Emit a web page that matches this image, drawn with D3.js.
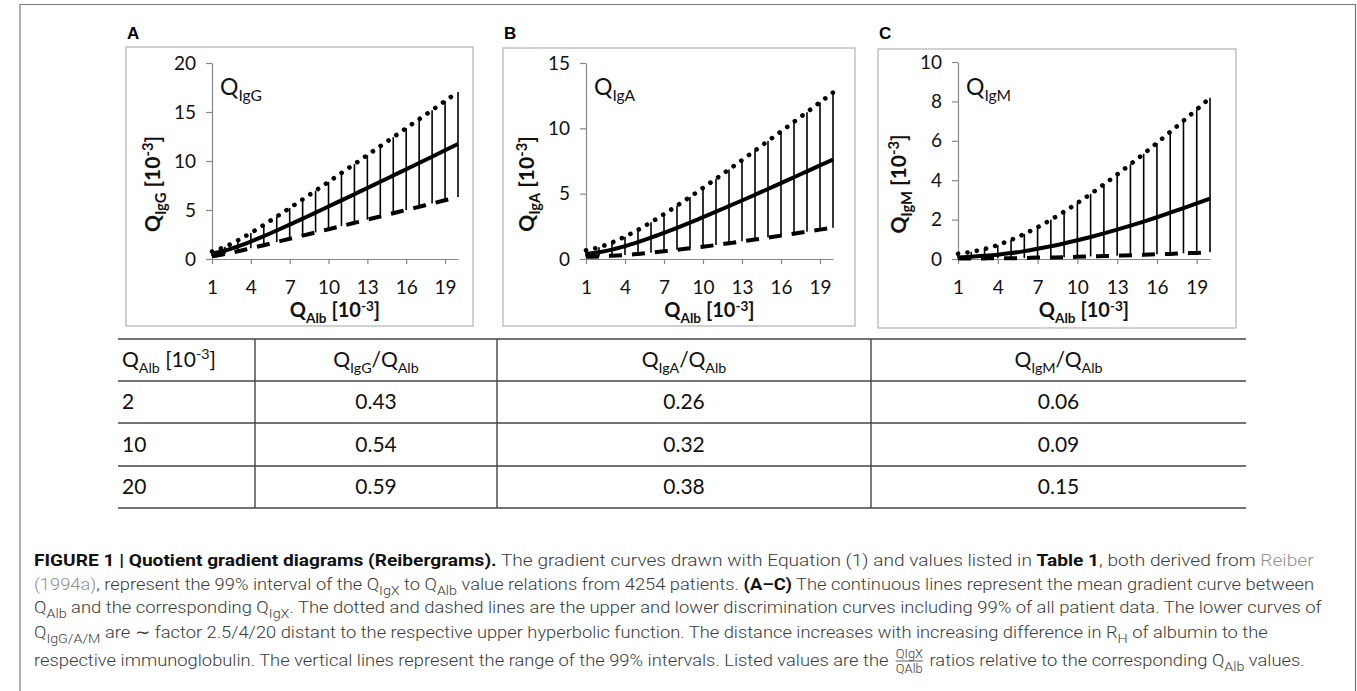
<!DOCTYPE html>
<html>
<head>
<meta charset="utf-8">
<script src="https://cdn.jsdelivr.net/npm/d3@7"></script>
<style>
  body { margin: 0; background: #fff; }
  text { white-space: pre; }
</style>
</head>
<body>
<div id="chart"></div>
<script>
// Q_Alb categories (x axis, 10^-3)
const qAlb = [1, 2, 3, 4, 5, 6, 7, 8, 9, 10, 11, 12, 13, 14, 15, 16, 17, 18, 19, 20];
const xTickLabels = [1, 4, 7, 10, 13, 16, 19];

// (IgG)
const igGUpper = [0.76, 1.24, 1.9, 2.66, 3.48, 4.33, 5.2, 6.08, 6.97, 7.87, 8.78, 9.69, 10.6, 11.52, 12.43, 13.35, 14.27, 15.19, 16.12, 17.04];
const igGMean = [0.55, 0.85, 1.28, 1.78, 2.33, 2.91, 3.51, 4.12, 4.73, 5.36, 5.98, 6.61, 7.25, 7.88, 8.52, 9.16, 9.8, 10.44, 11.09, 11.73];
const igGLower = [0.27, 0.51, 0.79, 1.1, 1.41, 1.73, 2.06, 2.38, 2.71, 3.03, 3.36, 3.69, 4.02, 4.34, 4.67, 5.0, 5.33, 5.66, 5.99, 6.32];

// panel B (IgA)
const igAUpper = [0.67, 0.9, 1.26, 1.71, 2.23, 2.81, 3.43, 4.08, 4.75, 5.44, 6.14, 6.85, 7.57, 8.3, 9.03, 9.76, 10.5, 11.24, 11.99, 12.74];
const igAMean = [0.39, 0.52, 0.72, 0.98, 1.29, 1.63, 2.0, 2.38, 2.78, 3.2, 3.62, 4.05, 4.48, 4.92, 5.36, 5.81, 6.26, 6.71, 7.16, 7.61];
const igALower = [0.17, 0.2, 0.25, 0.31, 0.39, 0.48, 0.59, 0.7, 0.82, 0.94, 1.07, 1.21, 1.35, 1.49, 1.64, 1.79, 1.94, 2.09, 2.25, 2.4];

// panel C (IgM)
const igMUpper = [0.27, 0.36, 0.51, 0.71, 0.97, 1.27, 1.61, 1.99, 2.4, 2.84, 3.3, 3.79, 4.29, 4.81, 5.34, 5.89, 6.45, 7.02, 7.59, 8.18];
const igMMean = [0.08, 0.11, 0.16, 0.22, 0.3, 0.4, 0.52, 0.65, 0.79, 0.95, 1.12, 1.3, 1.49, 1.69, 1.9, 2.12, 2.35, 2.58, 2.82, 3.07];
const igMLower = [0.02, 0.02, 0.03, 0.04, 0.04, 0.05, 0.07, 0.08, 0.09, 0.11, 0.13, 0.15, 0.17, 0.19, 0.21, 0.24, 0.26, 0.29, 0.31, 0.34];

// table values
const tableQAlb = ["2", "10", "20"];
const ratioIgG = ["0.43", "0.54", "0.59"];
const ratioIgA = ["0.26", "0.32", "0.38"];
const ratioIgM = ["0.06", "0.09", "0.15"];

const width = 1357,
  height = 691;

const svg = d3
  .select("#chart")
  .append("svg")
  .attr("width", width)
  .attr("height", height);

// writes text parts; flags: "_" sub, "^" sup, "*" bold, "~" link grey
function rich(sel, parts, size, subScale = 0.68, supShift = 0.36, boldFamily = null) {
  let cur = 0;
  parts.forEach(([s, f]) => {
    const sub = f.includes("_"),
      sup = f.includes("^");
    const shift = sub ? size * 0.28 : sup ? -size * supShift : 0;
    const t = sel.append("tspan").attr("dy", shift - cur).text(s);
    cur = shift;
    if (sub || sup) t.attr("font-size", size * subScale);
    if (f.includes("*")) {
      t.attr("font-weight", 700).attr("fill", "#111");
      if (boldFamily) t.attr("font-family", boldFamily);
    }
    if (f.includes("~")) t.attr("fill", "#8f8f8f");
  });
  return sel;
}

// outer figure frame
svg
  .append("path")
  .attr("d", `M20,${height + 2}V4.5H1355.5V${height + 2}`)
  .attr("fill", "none")
  .attr("stroke", "#777")
  .attr("stroke-width", 1.2);

const panels = [
  { letter: "A", ig: "IgG", upper: igGUpper, mean: igGMean, lower: igGLower, yMax: 20, yTicks: [0, 5, 10, 15, 20], box: [126, 47, 473, 326], plot: [212, 458, 63, 259] },
  { letter: "B", ig: "IgA", upper: igAUpper, mean: igAMean, lower: igALower, yMax: 15, yTicks: [0, 5, 10, 15], box: [503, 48, 855, 326], plot: [586, 833, 63, 259] },
  { letter: "C", ig: "IgM", upper: igMUpper, mean: igMMean, lower: igMLower, yMax: 10, yTicks: [0, 2, 4, 6, 8, 10], box: [878, 49, 1236, 328], plot: [958, 1210, 62, 259] },
];

const axisColor = "#868686";

panels.forEach((p) => {
  const g = svg.append("g");
  const [bx0, by0, bx1, by1] = p.box;
  const [px0, px1, py0, py1] = p.plot;

  g.append("rect")
    .attr("x", bx0)
    .attr("y", by0)
    .attr("width", bx1 - bx0)
    .attr("height", by1 - by0)
    .attr("fill", "none")
    .attr("stroke", "#bdbdbd")
    .attr("stroke-width", 1.4);

  g.append("text")
    .attr("x", bx0 + 1)
    .attr("y", 39)
    .attr("font-family", "Liberation Sans, Arial, sans-serif")
    .attr("font-weight", 700)
    .attr("font-size", 17)
    .text(p.letter);

  const x = d3.scaleLinear().domain([1, 20]).range([px0, px1]);
  const y = d3.scaleLinear().domain([0, p.yMax]).range([py1, py0]);

  const yAxis = g
    .append("g")
    .attr("transform", `translate(${px0},0)`)
    .call(d3.axisLeft(y).tickValues(p.yTicks).tickSize(6).tickSizeOuter(0).tickPadding(10));
  const xAxis = g
    .append("g")
    .attr("transform", `translate(0,${py1})`)
    .call(d3.axisBottom(x).tickValues(xTickLabels).tickSize(5).tickSizeOuter(0).tickPadding(17));

  [yAxis, xAxis].forEach((a) => {
    a.select(".domain").attr("stroke", axisColor).attr("stroke-width", 1.2);
    a.selectAll(".tick line").attr("stroke", axisColor).attr("stroke-width", 1.2);
    a.selectAll(".tick text")
      .attr("font-family", "Lato, sans-serif")
      .attr("font-size", 19)
      .attr("fill", "#111");
  });

  // high-low lines of the 99% range
  g.append("g")
    .selectAll("line")
    .data(qAlb)
    .join("line")
    .attr("x1", (d) => x(d))
    .attr("x2", (d) => x(d))
    .attr("y1", (d, i) => y(p.upper[i]))
    .attr("y2", (d, i) => y(p.lower[i]))
    .attr("stroke", "#000")
    .attr("stroke-width", 1.6);

  const line = (vals) =>
    d3
      .line()
      .x((d) => x(d))
      .y((d, i) => y(vals[i]))
      .curve(d3.curveMonotoneX)(qAlb);

  g.append("path")
    .attr("d", line(p.lower))
    .attr("fill", "none")
    .attr("stroke", "#000")
    .attr("stroke-width", 4)
    .attr("stroke-dasharray", "13 10");

  g.append("path")
    .attr("d", line(p.mean))
    .attr("fill", "none")
    .attr("stroke", "#000")
    .attr("stroke-width", 4);

  g.append("path")
    .attr("d", line(p.upper))
    .attr("fill", "none")
    .attr("stroke", "#000")
    .attr("stroke-width", 4.6)
    .attr("stroke-linecap", "round")
    .attr("stroke-dasharray", "0.1 9.4");

  // inner label
  rich(
    g.append("text")
      .attr("x", px0 + 8)
      .attr("y", 95)
      .attr("font-family", "Lato, sans-serif")
      .attr("font-size", 23)
      .attr("fill", "#111"),
    [["Q", ""], [p.ig, "_"]],
    23
  );

  // axis titles
  rich(
    g.append("text")
      .attr("transform", `translate(${(px0 + px1) / 2},317)`)
      .attr("text-anchor", "middle")
      .attr("font-family", "Lato, sans-serif")
      .attr("font-weight", 700)
      .attr("font-size", 20)
      .attr("fill", "#111"),
    [["Q", ""], ["Alb", "_"], [" [10", ""], ["-3", "^"], ["]", ""]],
    20, 0.68, 0.3
  );
  rich(
    g.append("text")
      .attr("transform", `translate(${px0 - 52},184) rotate(-90)`)
      .attr("text-anchor", "middle")
      .attr("font-family", "Lato, sans-serif")
      .attr("font-weight", 700)
      .attr("font-size", 21)
      .attr("fill", "#111"),
    [["Q", ""], [p.ig, "_"], [" [10", ""], ["-3", "^"], ["]", ""]],
    21, 0.7, 0.32
  );
});

// table
const colEdges = [118, 255, 497, 871, 1246];
const rowLines = [339, 381, 423, 466, 508];
const tg = svg.append("g");
tg.selectAll("line.h")
  .data(rowLines)
  .join("line")
  .attr("x1", colEdges[0])
  .attr("x2", colEdges[4])
  .attr("y1", (d) => d)
  .attr("y2", (d) => d)
  .attr("stroke", "#444")
  .attr("stroke-width", 1.4);
tg.selectAll("line.v")
  .data(colEdges.slice(1, 4))
  .join("line")
  .attr("x1", (d) => d)
  .attr("x2", (d) => d)
  .attr("y1", rowLines[0])
  .attr("y2", rowLines[4])
  .attr("stroke", "#444")
  .attr("stroke-width", 1.4);

const tSize = 21;
const cellText = (xPos, yPos, anchor) =>
  tg.append("text")
    .attr("x", xPos)
    .attr("y", yPos)
    .attr("text-anchor", anchor)
    .attr("font-family", "Lato, sans-serif")
    .attr("font-size", tSize)
    .attr("fill", "#111");

const rowMid = (r) => (rowLines[r] + rowLines[r + 1]) / 2 + 7;
const colMid = (c) => (colEdges[c] + colEdges[c + 1]) / 2;

rich(cellText(colEdges[0] + 4, rowMid(0), "start"), [["Q", ""], ["Alb", "_"], [" [10", ""], ["-3", "^"], ["]", ""]], tSize);
["IgG", "IgA", "IgM"].forEach((ig, c) => {
  rich(cellText(colMid(c + 1), rowMid(0), "middle"), [["Q", ""], [ig, "_"], ["/Q", ""], ["Alb", "_"]], tSize);
});
tableQAlb.forEach((v, r) => cellText(colEdges[0] + 4, rowMid(r + 1), "start").text(v));
[ratioIgG, ratioIgA, ratioIgM].forEach((col, c) => {
  col.forEach((v, r) => cellText(colMid(c + 1), rowMid(r + 1), "middle").text(v));
});

// caption
const capX = 34;
const capBase = [566, 590, 613, 638, 666];
const capEnd = [1315, 1315, 1323, 1268, 1305];
const capSize = 17;
const capBold = "Roboto, 'Liberation Sans', sans-serif";
const capLines = [
  [["FIGURE 1 | Quotient gradient diagrams (Reibergrams).", "*"], [" The gradient curves drawn with Equation (1) and values listed in ", ""], ["Table 1", "*"], [", both derived from ", ""], ["Reiber", "~"]],
  [["(1994a)", "~"], [", represent the 99% interval of the Q", ""], ["IgX", "_"], [" to Q", ""], ["Alb", "_"], [" value relations from 4254 patients. ", ""], ["(A–C)", "*"], [" The continuous lines represent the mean gradient curve between", ""]],
  [["Q", ""], ["Alb", "_"], [" and the corresponding Q", ""], ["IgX", "_"], [". The dotted and dashed lines are the upper and lower discrimination curves including 99% of all patient data. The lower curves of", ""]],
  [["Q", ""], ["IgG/A/M", "_"], [" are ∼ factor 2.5/4/20 distant to the respective upper hyperbolic function. The distance increases with increasing difference in R", ""], ["H", "_"], [" of albumin to the", ""]],
];
const capLast1 = [["respective immunoglobulin. The vertical lines represent the range of the 99% intervals. Listed values are the", ""]];
const capLast2 = [["ratios relative to the corresponding Q", ""], ["Alb", "_"], [" values.", ""]];

const cg = svg
  .append("g")
  .attr("font-family", "'Roboto Light', 'Lato Light', 'Open Sans Light', Roboto, sans-serif")
  .attr("font-weight", 300)
  .attr("fill", "#3a3a3a");
const capText = (parent, xPos, yPos) =>
  parent.append("text").attr("x", xPos).attr("y", yPos).attr("font-size", capSize);

function fit(lg, end) {
  const bb = lg.node().getBBox();
  const s = (end - capX) / (bb.x + bb.width - capX);
  lg.attr("transform", `translate(${capX},0) scale(${s},1) translate(${-capX},0)`);
}

capLines.forEach((parts, i) => {
  const lg = cg.append("g");
  rich(capText(lg, capX, capBase[i]), parts, capSize, 0.78, 0.36, capBold);
  fit(lg, capEnd[i]);
});

{
  const lg = cg.append("g");
  const t1 = rich(capText(lg, capX, capBase[4]), capLast1, capSize, 0.78);
  const w1 = t1.node().getComputedTextLength();
  const fx = capX + w1 + 6;
  const barY = capBase[4] - 5;
  const num = lg.append("text").attr("x", fx).attr("y", barY - 3).attr("font-size", 12).text("QIgX");
  const den = lg.append("text").attr("x", fx).attr("y", barY + 12).attr("font-size", 12).text("QAlb");
  const fw = Math.max(num.node().getComputedTextLength(), den.node().getComputedTextLength());
  num.attr("x", fx + (fw - num.node().getComputedTextLength()) / 2);
  den.attr("x", fx + (fw - den.node().getComputedTextLength()) / 2);
  lg.append("line")
    .attr("x1", fx)
    .attr("x2", fx + fw)
    .attr("y1", barY)
    .attr("y2", barY)
    .attr("stroke", "#3a3a3a")
    .attr("stroke-width", 0.8);
  rich(capText(lg, fx + fw + 6, capBase[4]), capLast2, capSize, 0.78);
  fit(lg, capEnd[4]);
}
</script>
</body>
</html>
